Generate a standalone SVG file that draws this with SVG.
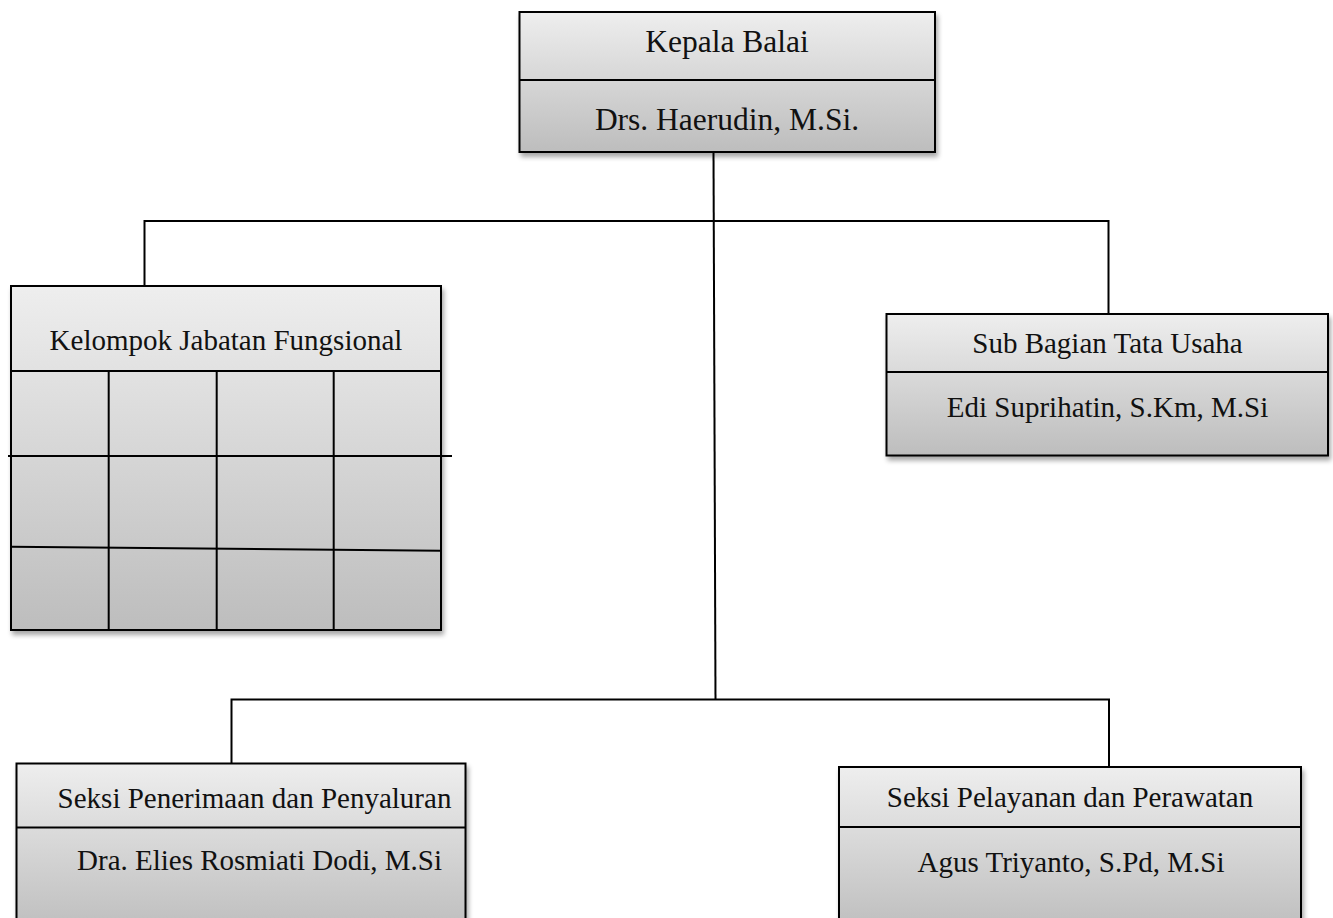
<svg xmlns="http://www.w3.org/2000/svg" width="1333" height="918" viewBox="0 0 1333 918">
<defs>
<linearGradient id="g" x1="0" y1="0" x2="0" y2="1">
<stop offset="0" stop-color="#eeeeee"/>
<stop offset="1" stop-color="#bdbdbd"/>
</linearGradient>
<filter id="sh" x="-5%" y="-5%" width="112%" height="120%">
<feGaussianBlur in="SourceAlpha" stdDeviation="2.5"/>
<feOffset dx="2" dy="4" result="b"/>
<feComponentTransfer><feFuncA type="linear" slope="0.35"/></feComponentTransfer>
<feMerge><feMergeNode/><feMergeNode in="SourceGraphic"/></feMerge>
</filter>
</defs>
<style>
.box{fill:url(#g);stroke:#000;stroke-width:2;filter:url(#sh)}
.ln{stroke:#000;stroke-width:2;fill:none}
.t{font-family:"Liberation Serif","Times New Roman",serif;font-size:29px;fill:#111;text-anchor:middle}
.tb{font-size:31.5px}
</style>
<rect width="1333" height="918" fill="#fff"/>
<g id="connectors" class="ln">
<path d="M713.5 152 L715.5 699"/>
<path d="M144.5 287 V221 H1108.5 V314"/>
<path d="M231.5 763 V699.5 H1109 V767"/>
</g>
<g id="kepala">
<rect class="box" x="519.5" y="12" width="415.5" height="140"/>
<line class="ln" x1="519.5" y1="80" x2="935" y2="80"/>
<text class="t tb" x="727" y="52">Kepala Balai</text>
<text class="t tb" x="727" y="130">Drs. Haerudin, M.Si.</text>
</g>
<g id="fungsional">
<rect class="box" x="11" y="286" width="430" height="344"/>
<line class="ln" x1="11" y1="371" x2="441" y2="371"/>
<line class="ln" x1="8" y1="456" x2="452" y2="456"/>
<line class="ln" x1="11" y1="546.7" x2="441" y2="550.7"/>
<line class="ln" x1="108.7" y1="371" x2="108.7" y2="630"/>
<line class="ln" x1="216.7" y1="371" x2="216.7" y2="630"/>
<line class="ln" x1="333.7" y1="371" x2="333.7" y2="630"/>
<text class="t" x="226" y="350">Kelompok Jabatan Fungsional</text>
</g>
<g id="tatausaha">
<rect class="box" x="886.5" y="314" width="441.5" height="141.5"/>
<line class="ln" x1="886.5" y1="372" x2="1328" y2="372"/>
<text class="t" x="1107.5" y="353">Sub Bagian Tata Usaha</text>
<text class="t" x="1107.5" y="417">Edi Suprihatin, S.Km, M.Si</text>
</g>
<g id="penerimaan">
<rect class="box" x="16.5" y="763.5" width="449" height="170"/>
<line class="ln" x1="16.5" y1="827.5" x2="465.5" y2="827.5"/>
<text class="t" x="254.5" y="808">Seksi Penerimaan dan Penyaluran</text>
<text class="t" x="259.5" y="870">Dra. Elies Rosmiati Dodi, M.Si</text>
</g>
<g id="pelayanan">
<rect class="box" x="839" y="767" width="462" height="166"/>
<line class="ln" x1="839" y1="827" x2="1301" y2="827"/>
<text class="t" x="1070" y="807">Seksi Pelayanan dan Perawatan</text>
<text class="t" x="1071" y="872">Agus Triyanto, S.Pd, M.Si</text>
</g>
</svg>
